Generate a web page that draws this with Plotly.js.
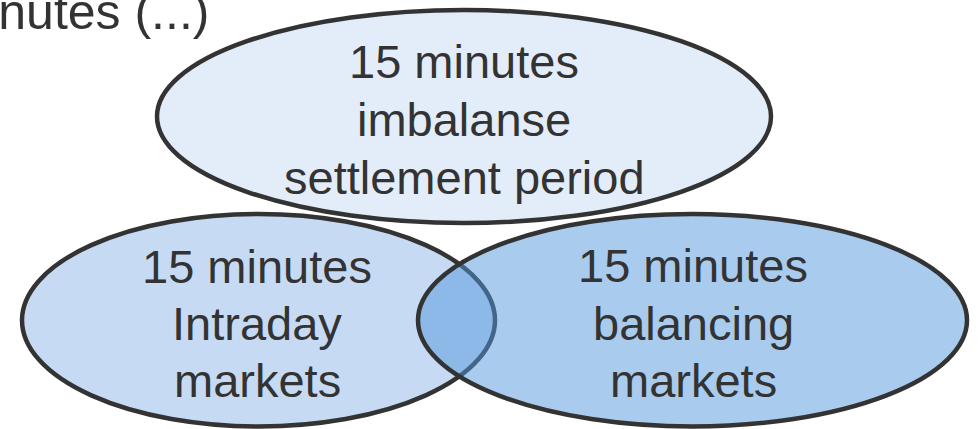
<!DOCTYPE html>
<html>
<head>
<meta charset="utf-8">
<script src="https://cdn.plot.ly/plotly-3.0.1.min.js"></script>
<style>html,body{margin:0;padding:0;background:#fff;}#chart{width:980px;height:429px;}</style>
</head>
<body>
<div id="chart"></div>
<script>
// Diagram content
const sets = ["imbalance", "intraday", "balancing"];
const setLines = [
  ["15 minutes", "imbalanse", "settlement period"],
  ["15 minutes", "Intraday", "markets"],
  ["15 minutes", "balancing", "markets"]
];
const titleText = "15 minutes (...)";

// Layout geometry (pixel-like axis units)
const geom = {
  imbalance: {x0: 157, x1: 771, y0: 10, y1: 223, cx: 464, base: [78, 136, 194]},
  intraday:  {x0: 22,  x1: 495, y0: 214, y1: 426.5, cx: 257, base: [283, 340, 397]},
  balancing: {x0: 418, x1: 967, y0: 214, y1: 426.5, cx: 693, base: [282, 340, 397]}
};
const fills = {
  imbalance: "#E3EDF9",
  intraday: "#C6DBF3",
  balancing: "rgba(83,151,221,0.5)"
};
const drawOrder = ["intraday", "balancing", "imbalance"];
const FS = 47;
const textColor = "#333333";

const shapes = drawOrder.map(k => ({
  type: "circle", xref: "x", yref: "y",
  x0: geom[k].x0, x1: geom[k].x1, y0: geom[k].y0, y1: geom[k].y1,
  fillcolor: fills[k],
  line: {color: "#333333", width: 4.5},
  layer: "above"
}));

const annotations = [];
sets.forEach((k, i) => {
  setLines[i].forEach((t, j) => {
    annotations.push({
      x: geom[k].cx, y: geom[k].base[j] - 0.35 * FS,
      xref: "x", yref: "y", text: t, showarrow: false,
      xanchor: "center", yanchor: "middle",
      font: {family: "Liberation Sans, Arial, sans-serif", size: FS, color: textColor}
    });
  });
});
annotations.push({
  x: 211, y: 29 - 0.35 * 50, xref: "x", yref: "y", text: titleText, showarrow: false,
  xanchor: "right", yanchor: "middle",
  font: {family: "Liberation Sans, Arial, sans-serif", size: 50, color: textColor}
});

const layout = {
  width: 980, height: 429,
  margin: {l: 0, r: 0, t: 0, b: 0},
  paper_bgcolor: "#ffffff", plot_bgcolor: "#ffffff",
  xaxis: {range: [0, 980], visible: false, fixedrange: true},
  yaxis: {range: [429, 0], visible: false, fixedrange: true},
  showlegend: false,
  shapes: shapes,
  annotations: annotations
};

Plotly.newPlot("chart", [], layout, {staticPlot: true, displayModeBar: false});
</script>
</body>
</html>
